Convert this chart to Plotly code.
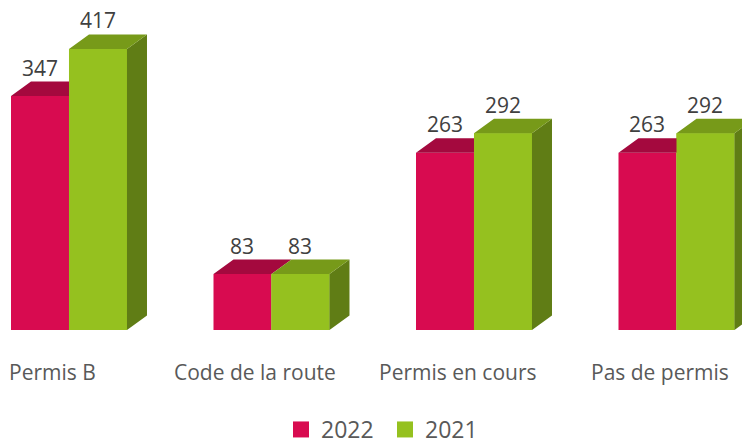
import plotly.graph_objects as go

categories = ["Permis B", "Code de la route", "Permis en cours", "Pas de permis"]
series_names = ["2022", "2021"]
values_2022 = [347, 83, 263, 263]
values_2021 = [417, 83, 292, 292]

# styling / geometry (not data)
FRONT = ["#D80B50", "#95C11F"]
TOP = ["#A4093E", "#779A19"]
SIDE = ["#8A0733", "#607D15"]
W = 0.2864          # bar width in category units
DX = 0.0988         # depth offset (x units)
DY = 21.5           # depth offset (value units)
LBL_OFF = -0.08

fig = go.Figure()
xs = list(range(len(categories)))
all_vals = [values_2022, values_2021]

# front faces (bar layer)
for s, (name, vals) in enumerate(zip(series_names, all_vals)):
    fig.add_trace(go.Bar(
        x=xs, y=vals, name=name, width=W, offset=-W if s == 0 else 0,
        marker=dict(color=FRONT[s], line=dict(width=0)), hoverinfo="skip",
        showlegend=False))


def poly_trace(pts_list, color):
    X, Y = [], []
    for pts in pts_list:
        for (a, b) in pts:
            X.append(a); Y.append(b)
        X.append(pts[0][0]); Y.append(pts[0][1])
        X.append(None); Y.append(None)
    return go.Scatter(x=X, y=Y, fill="toself", fillcolor=color, mode="lines",
                      line=dict(width=0, color=color), showlegend=False,
                      hoverinfo="skip")


for s, vals in enumerate(all_vals):
    tops, sides, fronts = [], [], []
    for i, v in zip(xs, vals):
        xl = i - W if s == 0 else i
        xr = xl + W
        tops.append([(xl, v), (xl + DX, v + DY), (xr + DX, v + DY), (xr, v)])
        sides.append([(xr, 0), (xr + DX, DY), (xr + DX, v + DY), (xr, v)])
        fronts.append([(xl, 0), (xl, v), (xr, v), (xr, 0)])
    if s == 1:
        fig.add_trace(poly_trace(fronts, FRONT[s]))
        fig.add_trace(poly_trace(sides, SIDE[s]))
    fig.add_trace(poly_trace(tops, TOP[s]))

# legend entries (square markers), one legend box per series
legend_ids = ["legend", "legend2"]
for s, name in enumerate(series_names):
    fig.add_trace(go.Scatter(x=[None], y=[None], mode="markers", name=name,
                             marker=dict(symbol="square", size=16, color=FRONT[s]),
                             hoverinfo="skip", legend=legend_ids[s]))

annotations = []
for s, vals in enumerate(all_vals):
    for i, v in zip(xs, vals):
        cx = i - W / 2 if s == 0 else i + W / 2
        annotations.append(dict(x=cx, y=v + DY, text=str(v), showarrow=False,
                                xref="x", yref="y", yanchor="bottom", yshift=-2,
                                font=dict(size=21, color="#404040", family="Open Sans")))
for i, c in zip(xs, categories):
    annotations.append(dict(x=i + LBL_OFF, y=0, xref="x", yref="paper", text=c,
                            showarrow=False, yanchor="middle", yshift=-42,
                            font=dict(size=21, color="#595959", family="Open Sans")))

leg_common = dict(orientation="h", xanchor="left",
                  yref="container", y=1 - 429.5 / 446, yanchor="middle",
                  font=dict(size=23, color="#595959", family="Open Sans"),
                  itemsizing="trace", itemwidth=30, bgcolor="rgba(0,0,0,0)")

fig.update_layout(
    width=742, height=446,
    margin=dict(l=0, r=0, t=0, b=116, autoexpand=False),
    paper_bgcolor="white", plot_bgcolor="white",
    barmode="overlay",
    xaxis=dict(range=[-0.3407, 3.3235], visible=False, fixedrange=True),
    yaxis=dict(range=[0, 489.6], visible=False, fixedrange=True),
    showlegend=True,
    legend=dict(x=281 / 742, **leg_common),
    legend2=dict(x=385 / 742, **leg_common),
    annotations=annotations,
)

fig.write_html("out.html", post_script="document.body.style.margin='0';",
               config={"displayModeBar": False})
